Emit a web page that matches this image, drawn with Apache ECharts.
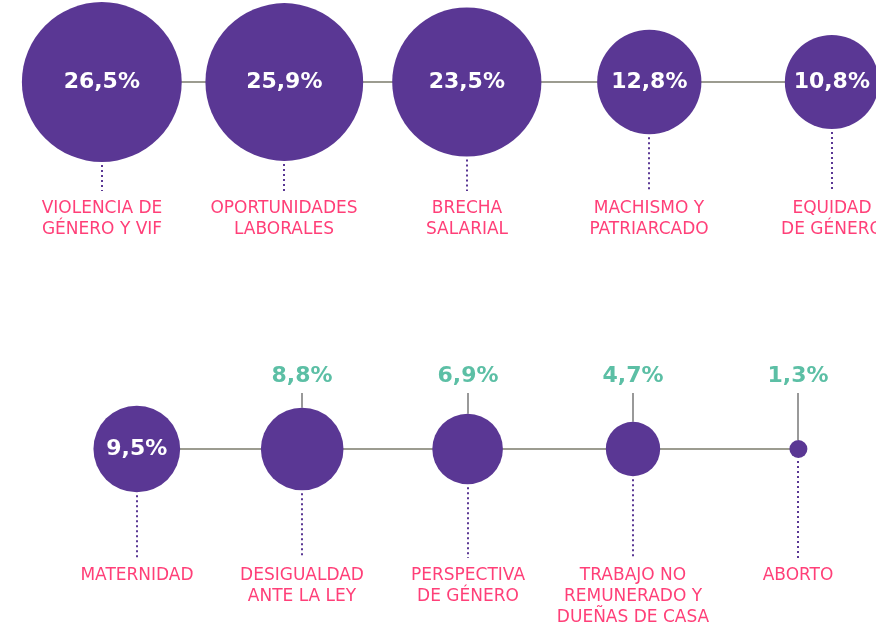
<!DOCTYPE html>
<html>
	<head>
		<meta charset="UTF-8">
		<title></title>
	</head>
	<body style="height: 100%; margin: 0">
		<div id="container" style="width: 876px; height: 622px"></div>
		<script src="https://cdn.jsdelivr.net/npm/echarts@6/dist/echarts.min.js" type="text/javascript" charset="utf-8"></script>
		<script type="text/javascript">
			var catsTop = ['VIOLENCIA DE\nGÉNERO Y VIF', 'OPORTUNIDADES\nLABORALES', 'BRECHA\nSALARIAL', 'MACHISMO Y\nPATRIARCADO', 'EQUIDAD\nDE GÉNERO'];
			var valsTop = [26.5, 25.9, 23.5, 12.8, 10.8];
			var catsBot = ['MATERNIDAD', 'DESIGUALDAD\nANTE LA LEY', 'PERSPECTIVA\nDE GÉNERO', 'TRABAJO NO\nREMUNERADO Y\nDUEÑAS DE CASA', 'ABORTO'];
			var valsBot = [9.5, 8.8, 6.9, 4.7, 1.3];

			var PURPLE = '#5a3794';
			var PINK = '#ff3f78';
			var TEAL = '#5cbfa5';
			var GREY = '#9c9c90';
			var INSIDE_MIN = 9; // bubbles from this value up carry their label inside

			var dom = document.getElementById("container");
			var myChart = echarts.init(dom);

			function size(v) {
				return 35.4 * Math.sqrt(v) - 22.4;
			}
			function fmt(v) {
				return v.toFixed(1).replace('.', ',') + '%';
			}
			function rows(cats, vals) {
				return vals.map(function (v, i) { return [i, 'fila', v]; });
			}

			function rowSeries(idx, cats, vals) {
				var data = rows(cats, vals);
				return [
					{
						type: 'line',
						xAxisIndex: idx, yAxisIndex: idx,
						data: data,
						symbol: 'none',
						clip: false,
						silent: true,
						lineStyle: { color: GREY, width: 2 },
						z: 1
					},
					{
						type: 'custom',
						xAxisIndex: idx, yAxisIndex: idx,
						data: data,
						clip: false,
						silent: true,
						z: 2,
						renderItem: function (params, api) {
							var v = api.value(2);
							var c = api.coord([api.value(0), 0]);
							var x = Math.round(c[0]);
							var r = size(v) / 2;
							var kids = [
								{
									type: 'line',
									shape: { x1: x, y1: c[1] + r + 3, x2: x, y2: c[1] + 109 },
									style: { stroke: PURPLE, lineWidth: 2, lineDash: [2, 3] }
								},
								{
									type: 'text',
									style: {
										text: cats[params.dataIndex],
										x: x, y: c[1] + 116,
										align: 'center', verticalAlign: 'top',
										fill: PINK, fontSize: 17, fontFamily: 'DejaVu Sans',
										lineHeight: 21
									}
								}
							];
							if (v < INSIDE_MIN) {
								kids.push({
									type: 'line',
									shape: { x1: x, y1: c[1] - 56, x2: x, y2: c[1] - r },
									style: { stroke: '#999999', lineWidth: 2 }
								});
								kids.push({
									type: 'text',
									style: {
										text: fmt(v),
										x: x, y: c[1] - 73,
										align: 'center', verticalAlign: 'middle',
										fill: TEAL, fontSize: 22, fontWeight: 'bold', fontFamily: 'DejaVu Sans'
									}
								});
							}
							return { type: 'group', children: kids };
						}
					},
					{
						type: 'scatter',
						xAxisIndex: idx, yAxisIndex: idx,
						data: data,
						clip: false,
						z: 3,
						symbolSize: function (d) { return size(d[2]); },
						itemStyle: { color: PURPLE, opacity: 1 },
						label: {
							show: true,
							position: 'inside',
							color: '#ffffff',
							fontSize: 22,
							fontWeight: 'bold',
							fontFamily: 'DejaVu Sans',
							formatter: function (p) {
								return p.value[2] >= INSIDE_MIN ? fmt(p.value[2]) : '';
							}
						}
					}
				];
			}

			function xAx(idx, cats) {
				return {
					type: 'category', gridIndex: idx, boundaryGap: false,
					data: cats.map(function (c, i) { return i; }),
					show: false
				};
			}
			function yAx(idx) {
				return { type: 'category', gridIndex: idx, data: ['fila'], show: false };
			}

			var option = {
				backgroundColor: '#ffffff',
				animation: false,
				grid: [
					{ left: 101.8, width: 730, top: 62, height: 40 },
					{ left: 136.8, width: 661.6, top: 429, height: 40 }
				],
				xAxis: [xAx(0, catsTop), xAx(1, catsBot)],
				yAxis: [yAx(0), yAx(1)],
				series: rowSeries(0, catsTop, valsTop).concat(rowSeries(1, catsBot, valsBot))
			};

			if (option && typeof option === "object") {
				myChart.setOption(option, true);
			}
		</script>
	</body>
</html>
